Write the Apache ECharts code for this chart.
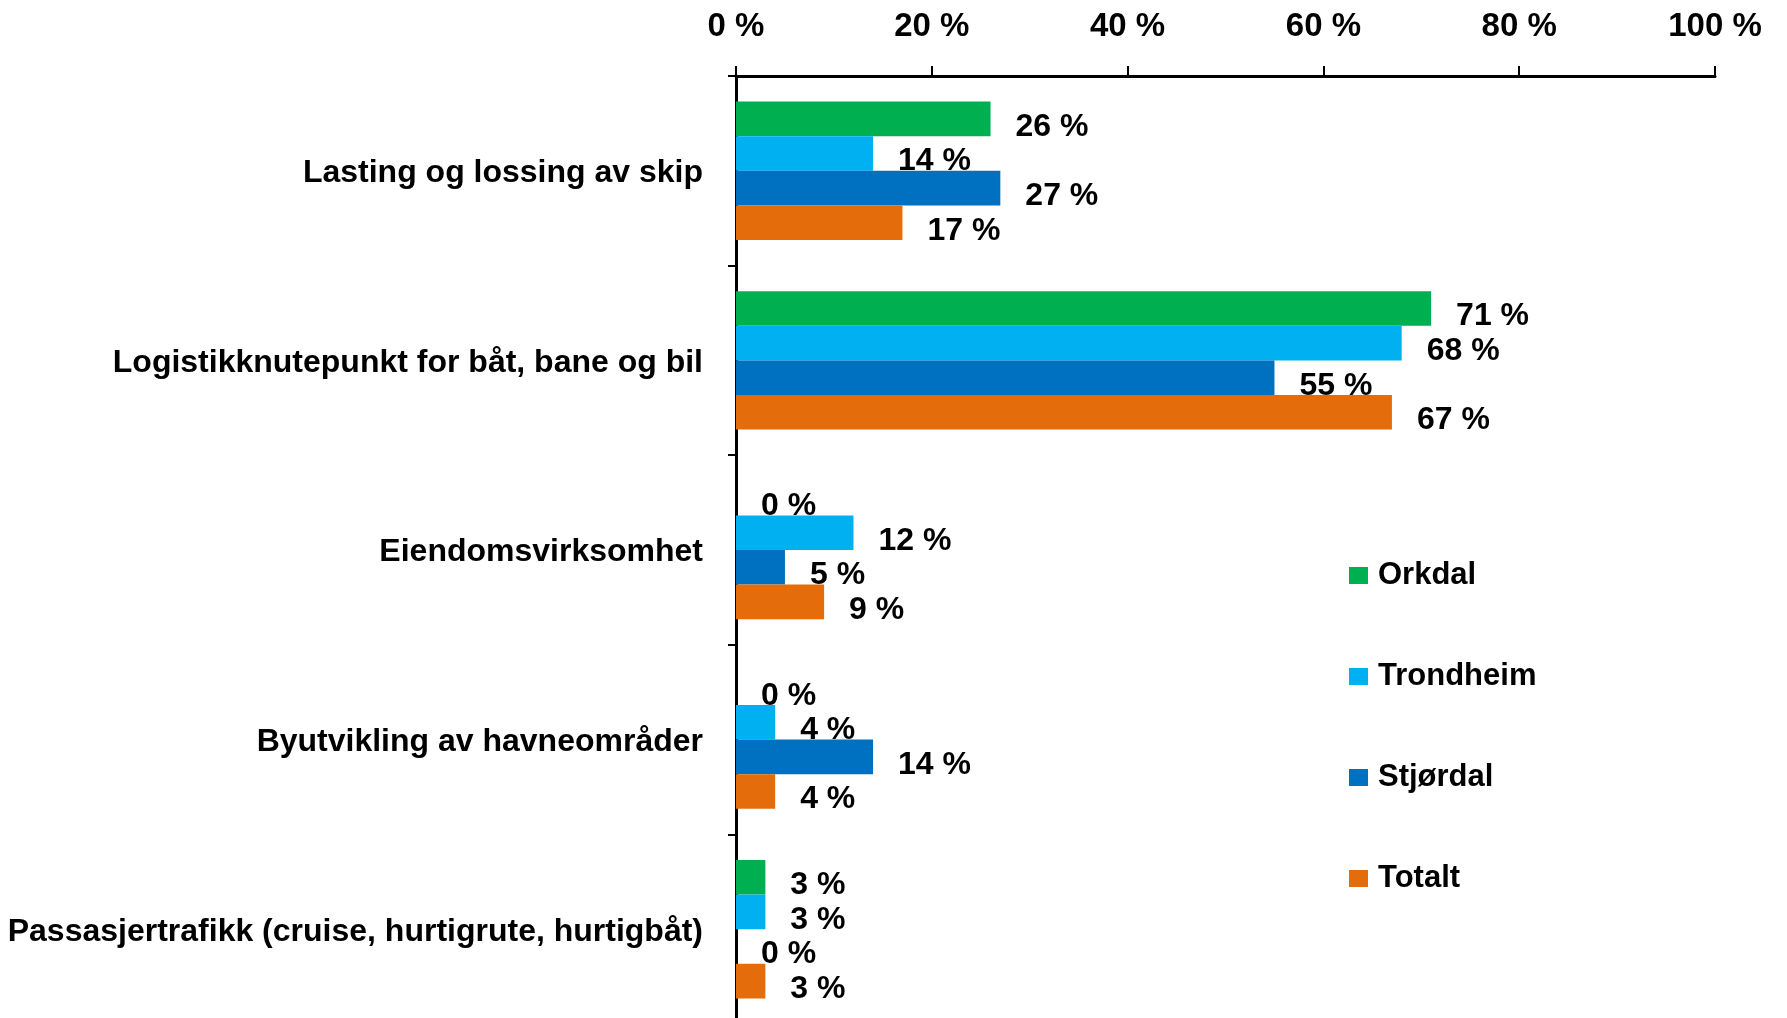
<!DOCTYPE html>
<html>
<head>
<meta charset="utf-8">
<title>Havnefunksjoner</title>
<script src="https://cdn.jsdelivr.net/npm/echarts@6/dist/echarts.min.js"></script>
<style>
  html, body { margin: 0; padding: 0; background: #fff; }
  #chart { width: 1787px; height: 1018px; }
</style>
</head>
<body>
<div id="chart"></div>
<script>
// kategorier (ovenfra og ned)
const categories = [
  'Lasting og lossing av skip',
  'Logistikknutepunkt for båt, bane og bil',
  'Eiendomsvirksomhet',
  'Byutvikling av havneområder',
  'Passasjertrafikk (cruise, hurtigrute, hurtigbåt)'
]
const seriesNames = ['Orkdal', 'Trondheim', 'Stjørdal', 'Totalt']
const orkdal = [26, 71, 0, 0, 3]
const trondheim = [14, 68, 12, 4, 3]
const stjordal = [27, 55, 5, 14, 0]
const totalt = [17, 67, 9, 4, 3]
const xTicks = [0, 20, 40, 60, 80, 100]

const colors = ['#00B050', '#00B0F0', '#0070C0', '#E46C0A']
const font = "'Liberation Sans', Arial, sans-serif"

let chart = echarts.init(document.getElementById('chart'))

const makeSeries = (name, data, i) => {
  return {
    name: name,
    type: 'bar',
    data: data,
    barGap: '0%',
    barCategoryGap: '27%',
    itemStyle: { color: colors[i] },
    label: {
      show: true,
      position: 'right',
      distance: 25,
      offset: [0, 8],
      formatter: '{c} %',
      color: '#000',
      fontSize: 32,
      fontWeight: 'bold',
      fontFamily: font
    }
  }
}

let option = {
  animation: false,
  backgroundColor: '#fff',
  textStyle: { fontFamily: font },
  grid: {
    left: 736,
    right: 72,
    top: 76,
    height: 948,
    outerBoundsMode: 'none'
  },
  legend: {
    orient: 'vertical',
    left: 1344,
    top: 553,
    itemWidth: 19,
    itemHeight: 17,
    itemGap: 66,
    icon: 'rect',
    data: seriesNames,
    textStyle: {
      fontSize: 31,
      fontWeight: 'bold',
      color: '#000',
      lineHeight: 31,
      padding: [4, 0, 0, 5],
      fontFamily: font
    }
  },
  xAxis: {
    type: 'value',
    position: 'top',
    min: xTicks[0],
    max: xTicks[xTicks.length - 1],
    interval: xTicks[1] - xTicks[0],
    axisLine: { show: true, lineStyle: { color: '#000', width: 3 } },
    axisTick: { show: true, length: 10, lineStyle: { color: '#000', width: 2 } },
    splitLine: { show: false },
    axisLabel: {
      formatter: '{value} %',
      margin: 33,
      fontSize: 33,
      fontWeight: 'bold',
      color: '#000',
      fontFamily: font
    }
  },
  yAxis: {
    type: 'category',
    inverse: true,
    data: categories,
    axisLine: { show: true, lineStyle: { color: '#000', width: 3 } },
    axisTick: { show: true, length: 8, lineStyle: { color: '#000', width: 2 } },
    axisLabel: {
      margin: 33,
      formatter: (value) => '{c|' + value + '}',
      rich: {
        c: {
          fontSize: 32,
          fontWeight: 'bold',
          color: '#000',
          padding: [5, 0, 0, 0],
          fontFamily: font
        }
      }
    }
  },
  series: [
    makeSeries(seriesNames[0], orkdal, 0),
    makeSeries(seriesNames[1], trondheim, 1),
    makeSeries(seriesNames[2], stjordal, 2),
    makeSeries(seriesNames[3], totalt, 3)
  ]
}

chart.setOption(option)
</script>
</body>
</html>
